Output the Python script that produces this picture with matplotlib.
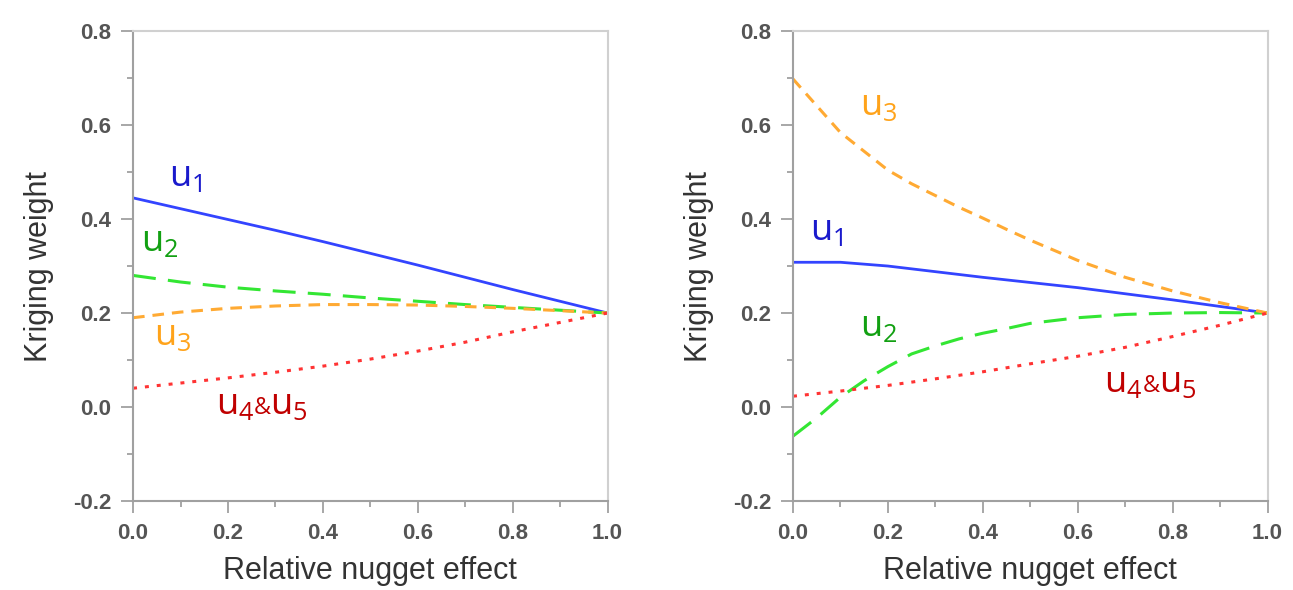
import matplotlib.pyplot as plt
import numpy as np

# Data
nugget = [0.0, 0.1, 0.2, 0.3, 0.4, 0.5, 0.6, 0.7, 0.8, 0.9, 1.0]
nugget_fine = [0.0, 0.05, 0.1, 0.15, 0.2, 0.25, 0.3, 0.35, 0.4, 0.45, 0.5,
               0.6, 0.7, 0.8, 0.9, 1.0]

# left panel
left_u1 = [0.445, 0.422, 0.399, 0.376, 0.352, 0.327, 0.302, 0.276, 0.250, 0.225, 0.2]
left_u2 = [0.280, 0.266, 0.255, 0.247, 0.240, 0.232, 0.225, 0.218, 0.212, 0.206, 0.2]
left_u3 = [0.190, 0.202, 0.210, 0.215, 0.218, 0.218, 0.217, 0.214, 0.210, 0.205, 0.2]
left_u45 = [0.040, 0.051, 0.062, 0.074, 0.087, 0.102, 0.119, 0.138, 0.160, 0.180, 0.2]

# right panel
right_u1 = [0.308, 0.308, 0.300, 0.288, 0.276, 0.265, 0.254, 0.241, 0.228, 0.214, 0.2]
right_u2 = [-0.062, -0.023, 0.021, 0.056, 0.086, 0.113, 0.130, 0.145, 0.157, 0.167,
            0.178, 0.190, 0.197, 0.200, 0.201, 0.2]
right_u3 = [0.698, 0.641, 0.584, 0.544, 0.504, 0.475, 0.450, 0.425, 0.402, 0.378,
            0.355, 0.312, 0.276, 0.247, 0.222, 0.2]
right_u45 = [0.023, 0.034, 0.046, 0.060, 0.075, 0.092, 0.108, 0.127, 0.150, 0.174, 0.2]

line_col = {'u1': '#3344ff', 'u2': '#33e633', 'u3': '#ffaa33', 'u45': '#ff3333'}
text_col = {'u1': '#1a1acc', 'u2': '#12a012', 'u3': '#ffa31a', 'u45': '#c00000'}

plt.rcParams['font.family'] = ['Liberation Sans', 'DejaVu Sans']
plt.rcParams['mathtext.default'] = 'regular'

fig = plt.figure(figsize=(12.93, 5.9), dpi=100)
ax1 = fig.add_axes([0.1029, 0.1508, 0.367, 0.7966])
ax2 = fig.add_axes([0.6133, 0.1508, 0.367, 0.7966])

LBL = 26


def ulabel(ax, x, y, key, subs):
    # 'u' with a subscript; for two parts a small '&' between them
    t = ax.text(x, y, 'u$_%s$' % subs[0], color=text_col[key], fontsize=LBL,
                family='Open Sans', ha='left', va='baseline')
    if len(subs) > 1:
        amp = ax.annotate('&', xy=(1, y), xycoords=(t, 'data'), xytext=(0, 0),
                          textcoords='offset points', color=text_col[key],
                          fontsize=17, family='Open Sans', ha='left', va='baseline')
        ax.annotate('u$_%s$' % subs[1], xy=(1, y), xycoords=(amp, 'data'),
                    xytext=(-0.5, 0), textcoords='offset points', color=text_col[key],
                    fontsize=LBL, family='Open Sans', ha='left', va='baseline')


def draw(ax, xs, u1, u2, u3, u45, labels):
    ax.plot(xs[0], u1, color=line_col['u1'], lw=2.0)
    ax.plot(xs[1], u2, color=line_col['u2'], lw=2.2, dashes=(7.5, 4))
    ax.plot(xs[2], u3, color=line_col['u3'], lw=2.2, dashes=(3.8, 2.6))
    ax.plot(xs[3], u45, color=line_col['u45'], lw=2.2, dashes=(1.3, 2.6))

    for key, subs in zip(['u1', 'u2', 'u3', 'u45'], ['1', '2', '3', '45']):
        ulabel(ax, labels[key][0], labels[key][1], key, subs)

    ax.set_xlim(0, 1)
    ax.set_ylim(-0.2, 0.8)
    ax.set_xticks(np.arange(0, 1.01, 0.2))
    ax.set_xticks(np.arange(0.1, 1.0, 0.2), minor=True)
    ax.set_yticks(np.arange(-0.2, 0.81, 0.2))
    ax.set_yticks(np.arange(-0.1, 0.8, 0.2), minor=True)
    ax.set_xticklabels(['0.0', '0.2', '0.4', '0.6', '0.8', '1.0'])
    ax.set_yticklabels(['-0.2', '0.0', '0.2', '0.4', '0.6', '0.8'])
    ax.tick_params(which='major', length=8.6, width=1.3, color='#a0a0a0',
                   labelsize=16, labelcolor='#555555', pad=7)
    ax.tick_params(which='minor', length=4.3, width=1.3, color='#a0a0a0')
    for lab in ax.get_xticklabels() + ax.get_yticklabels():
        lab.set_fontweight('bold')
    for s in ['left', 'bottom']:
        ax.spines[s].set_color('#a0a0a0')
        ax.spines[s].set_linewidth(1.5)
    for s in ['top', 'right']:
        ax.spines[s].set_color('#d0d0d0')
        ax.spines[s].set_linewidth(1.5)
    ax.set_xlabel('Relative nugget effect', fontsize=22, color='#333333')
    ax.set_ylabel('Kriging weight', fontsize=22, color='#333333')
    ax.xaxis.set_label_coords(0.5, -0.118)
    ax.yaxis.set_label_coords(-0.166, 0.5)


draw(ax1, [nugget, nugget, nugget, nugget], left_u1, left_u2, left_u3, left_u45,
     {'u1': (0.075, 0.47), 'u2': (0.016, 0.331), 'u3': (0.045, 0.132),
      'u45': (0.174, -0.015)})
draw(ax2, [nugget, nugget_fine, nugget_fine, nugget], right_u1, right_u2, right_u3,
     right_u45,
     {'u1': (0.036, 0.356), 'u2': (0.141, 0.152), 'u3': (0.141, 0.621),
      'u45': (0.656, 0.032)})

fig.savefig('out.png', dpi=100)
